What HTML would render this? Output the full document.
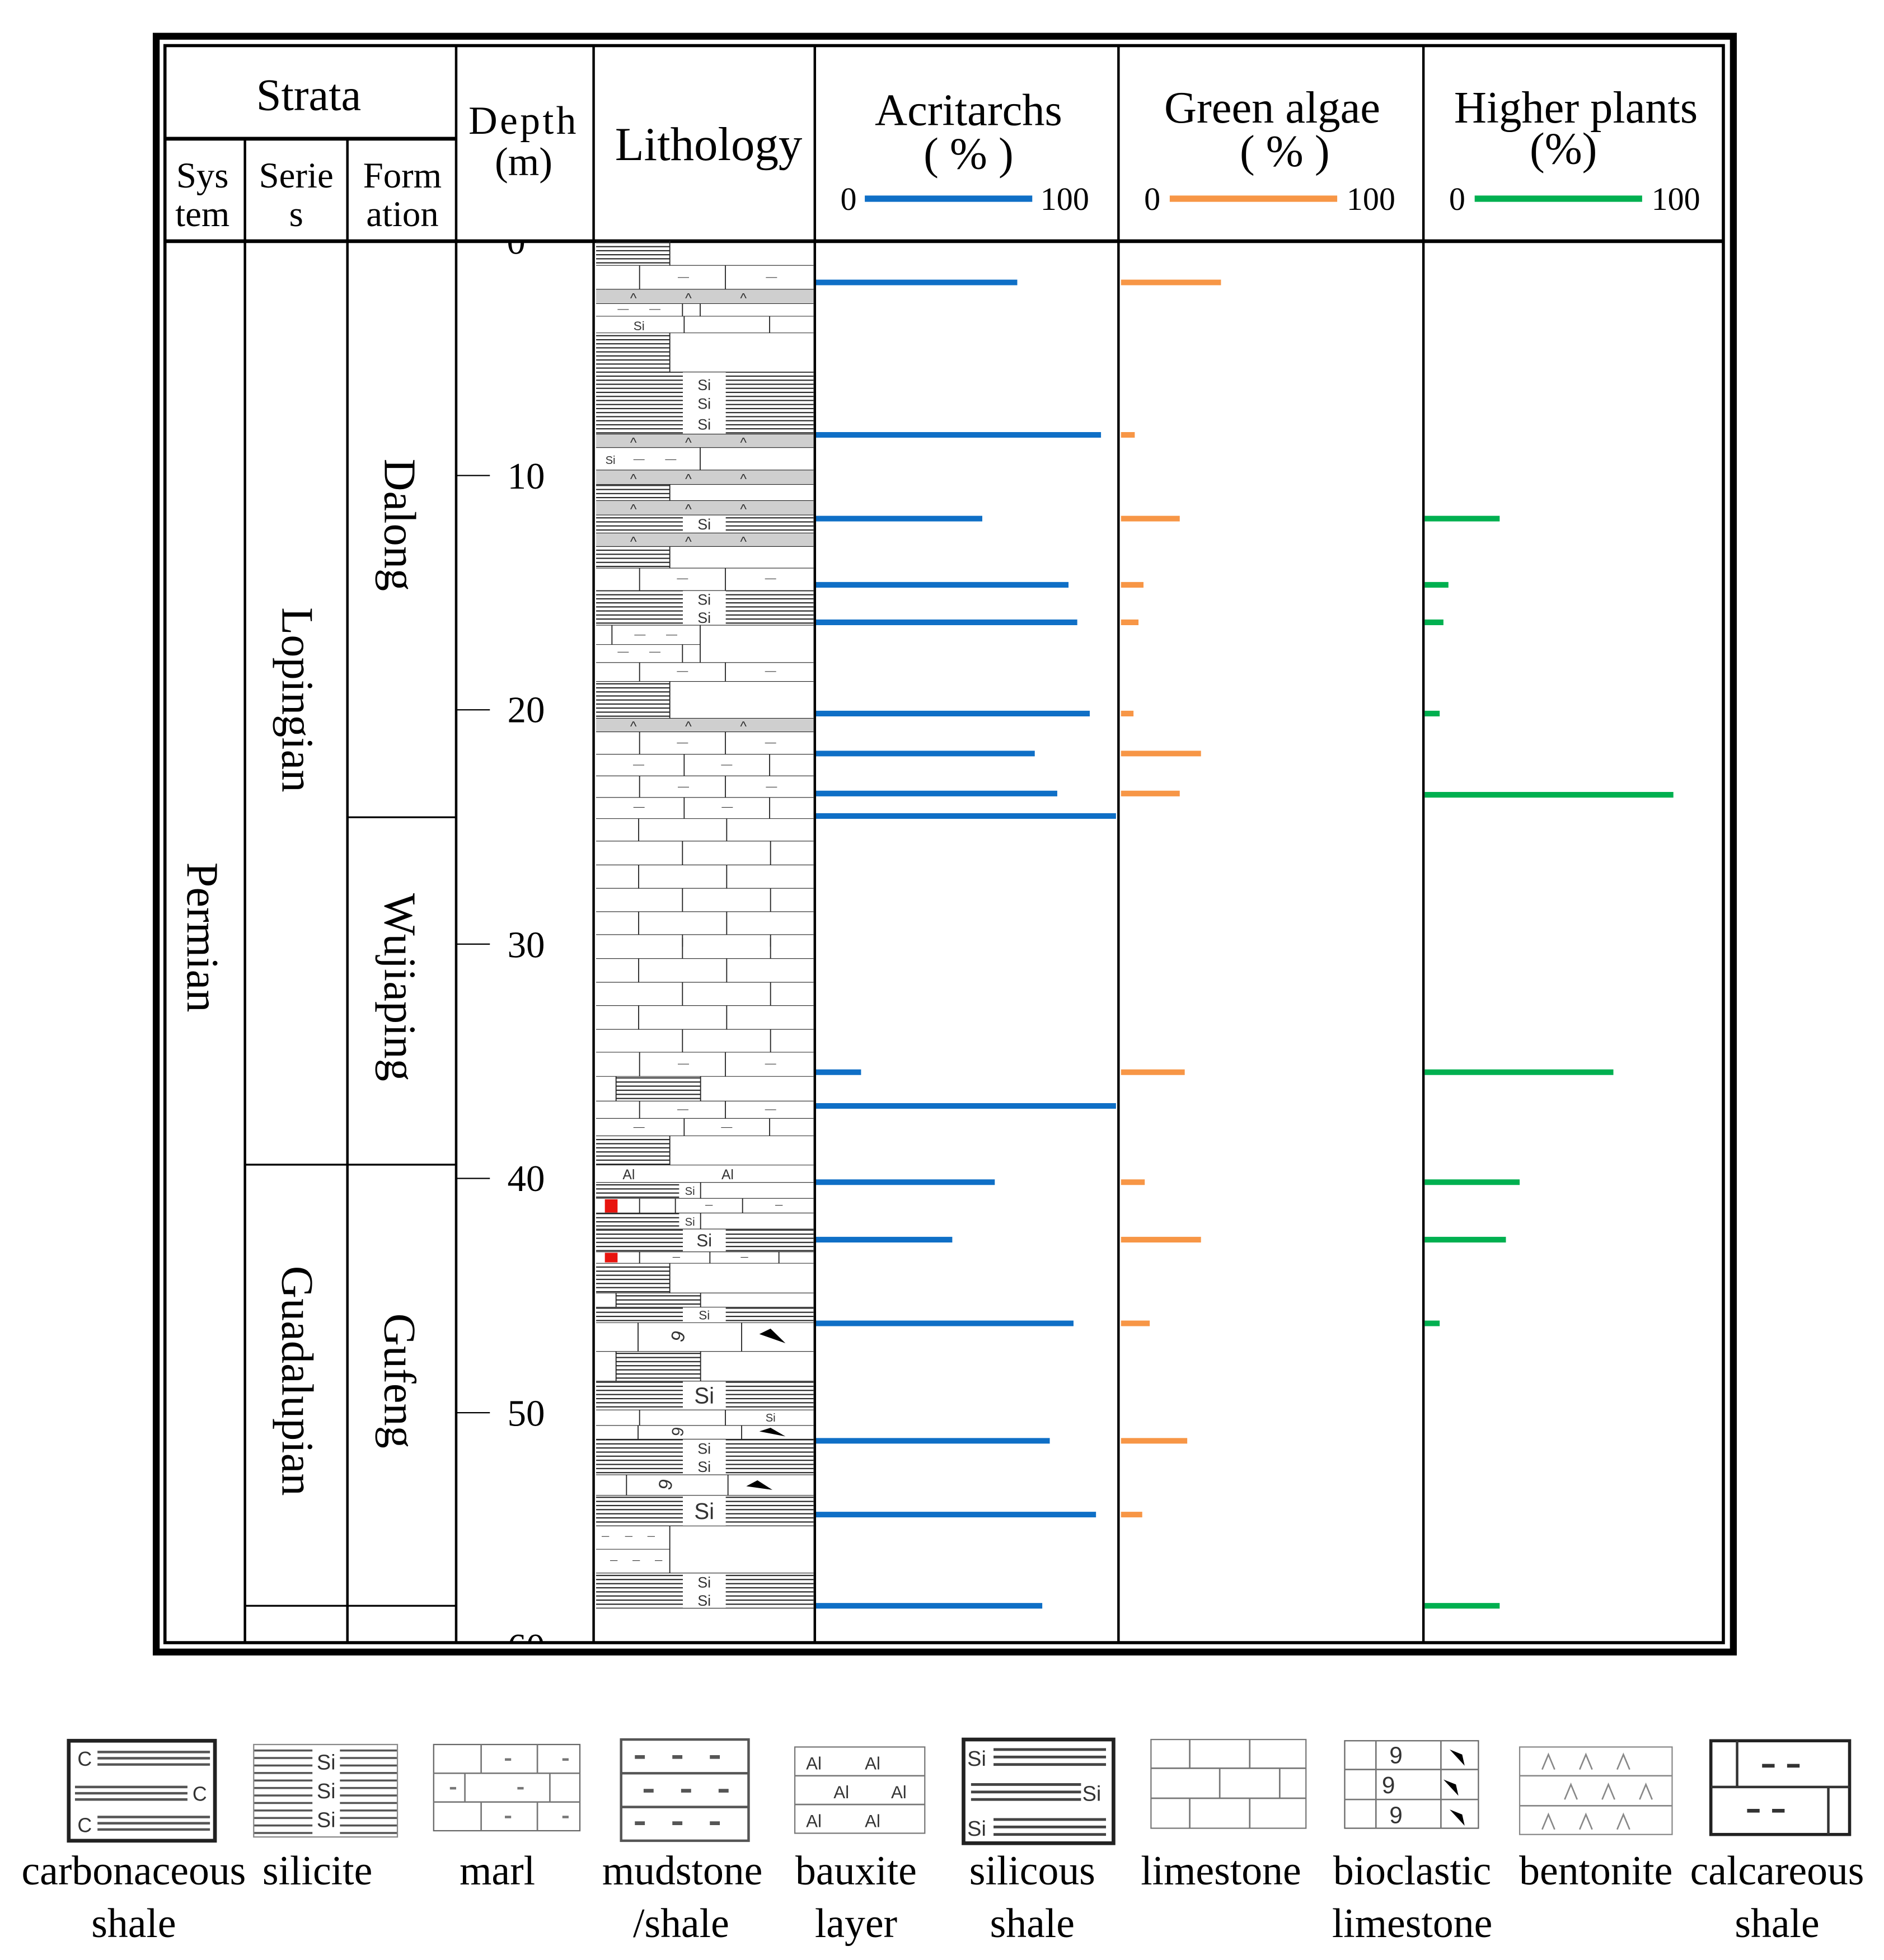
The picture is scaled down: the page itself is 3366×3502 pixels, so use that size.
<!DOCTYPE html>
<html><head><meta charset="utf-8"><style>
html,body{margin:0;padding:0;background:#fff;}
svg{display:block;}
text{font-family:"Liberation Serif",serif;fill:#000;}
.s{font-family:"Liberation Sans",sans-serif;fill:#333;}
</style></head><body>
<svg width="3366" height="3502" viewBox="0 0 1500 1560.6" xmlns="http://www.w3.org/2000/svg">
<defs>
<pattern id="sh" patternUnits="userSpaceOnUse" width="20" height="9"><rect y="3" width="20" height="2.6" fill="#222"/></pattern>
<pattern id="ls" patternUnits="userSpaceOnUse" width="10" height="6"><rect y="2" width="10" height="1.6" fill="#555"/></pattern>
<clipPath id="dc"><rect x="366" y="194" width="108" height="1120"/></clipPath>
</defs>
<g transform="scale(0.995)">
<!-- frame -->
<rect x="125" y="29" width="1262" height="1293" fill="none" stroke="#000" stroke-width="5.5"/>
<rect x="132" y="36.5" width="1247" height="1278" fill="none" stroke="#000" stroke-width="2.5"/>
<g stroke="#000" stroke-width="2">
<path d="M365 36.5V1314.5M475 36.5V1314.5M652 36.5V1314.5M895 36.5V1314.5M1139 36.5V1314.5"/>
<path d="M196 111V1314.5M278 111V1314.5"/>
<path d="M132 111H365" stroke-width="3"/>
<path d="M132 193H1379" stroke-width="3"/>
<path d="M278 654H365M196 932H365M196 1285H365" stroke-width="1.5"/>
<path d="M365 380.5H392M365 568H392M365 755.5H392M365 943H392M365 1130.5H392" stroke-width="1"/>
</g>
<!-- headers -->
<g font-size="36" text-anchor="middle">
<text x="247" y="88">Strata</text>
<text x="567" y="128" font-size="38">Lithology</text>
<text x="775" y="100">Acritarchs</text>
<text x="775" y="135">( % )</text>
<text x="1018" y="98">Green algae</text>
<text x="1028" y="133">( % )</text>
<text x="1261" y="98">Higher plants</text>
<text x="1251" y="131">(%)</text>
</g>
<g font-size="29" text-anchor="middle">
<text x="162" y="150">Sys</text><text x="162" y="181">tem</text>
<text x="237" y="150">Serie</text><text x="237" y="181">s</text>
<text x="322" y="150">Form</text><text x="322" y="181">ation</text>
<text x="419" y="107" font-size="32" letter-spacing="2">Depth</text>
<text x="419" y="140" font-size="32">(m)</text>
</g>
<g font-size="26" text-anchor="middle">
<text x="679" y="168">0</text><text x="852" y="168">100</text>
<text x="922" y="168">0</text><text x="1097" y="168">100</text>
<text x="1166" y="168">0</text><text x="1341" y="168">100</text>
</g>
<path d="M692 159H826" stroke="#0f6fc6" stroke-width="5"/>
<path d="M936 159H1070" stroke="#f79646" stroke-width="5"/>
<path d="M1180 159H1314" stroke="#00b050" stroke-width="5"/>
<!-- depth labels -->
<g font-size="30" text-anchor="middle">
<text x="421" y="391">10</text><text x="421" y="578">20</text><text x="421" y="766">30</text><text x="421" y="953">40</text><text x="421" y="1141">50</text>
<g clip-path="url(#dc)"><text x="413" y="203">0</text><text x="421" y="1328">60</text></g>
</g>
<!-- vertical labels -->
<g font-size="36" text-anchor="middle">
<text transform="translate(150,750) rotate(90)">Permian</text>
<text transform="translate(226,560) rotate(90)">Lopingian</text>
<text transform="translate(226,1105) rotate(90)">Guadalupian</text>
<text transform="translate(308,420) rotate(90)">Dalong</text>
<text transform="translate(308,790) rotate(90)">Wujiaping</text>
<text transform="translate(308,1105) rotate(90)">Gufeng</text>
</g>
<!-- bars -->
<g stroke="#0f6fc6" stroke-width="4.5">
<path d="M653 226H814M653 348H881M653 415H786M653 468H855M653 498H862M653 571H872M653 603H828M653 635H846M653 653H893M653 858H689M653 885H893M653 946H796M653 992H762M653 1059H859M653 1153H840M653 1212H877M653 1285H834"/>
</g>
<g stroke="#f79646" stroke-width="4.5">
<path d="M897 226H977M897 348H908M897 415H944M897 468H915M897 498H911M897 571H907M897 603H961M897 635H944M897 858H948M897 946H916M897 992H961M897 1059H920M897 1153H950M897 1212H914"/>
</g>
<g stroke="#00b050" stroke-width="4.5">
<path d="M1140 415H1200M1140 468H1159M1140 498H1155M1140 571H1152M1140 636H1339M1140 858H1291M1140 946H1216M1140 992H1205M1140 1059H1152M1140 1285H1200"/>
</g>

<!-- legend -->
<g stroke="#222" fill="none">
<rect x="55" y="1393" width="117" height="80" stroke-width="3"/>
<rect x="203" y="1396" width="115" height="74" stroke="#888" fill="url(#ls)"/>
<rect x="347" y="1396" width="117" height="69" stroke="#666"/>
<rect x="497" y="1392" width="102" height="81" stroke="#555" stroke-width="2"/>
<rect x="636" y="1398" width="104" height="69" stroke="#777"/>
<rect x="771" y="1392" width="120" height="83" stroke-width="3"/>
<rect x="921" y="1392" width="124" height="71" stroke="#777"/>
<rect x="1076" y="1393" width="107" height="70" stroke="#666"/>
<rect x="1216" y="1398" width="122" height="70" stroke="#888"/>
<rect x="1369" y="1393" width="111" height="75" stroke-width="2.5"/>
</g>
<g stroke="#555" stroke-width="2">
<path d="M78 1402H168M78 1407H168M78 1412H168M60 1430H150M60 1435H150M60 1440H150M78 1454H168M78 1459H168M78 1464H168"/>
</g>
<g class="s" font-size="16"><text x="62" y="1413" class="s">C</text><text x="154" y="1441" class="s">C</text><text x="62" y="1466" class="s">C</text></g>
<rect x="250" y="1397" width="22" height="72" fill="#fff"/>
<g font-size="17" class="s" text-anchor="middle"><text x="261" y="1416" class="s">Si</text><text x="261" y="1439" class="s">Si</text><text x="261" y="1462" class="s">Si</text></g>
<g stroke="#777" stroke-width="1.2"><path d="M347 1419H464M347 1442H464M385 1396V1419M430 1396V1419M372 1419V1442M440 1419V1442M385 1442V1465M430 1442V1465"/>
<path d="M404 1408h5M450 1408h5M360 1431h5M414 1431h5M404 1454h5M450 1454h5" stroke-width="2"/></g>
<g stroke="#555" stroke-width="2"><path d="M497 1419H599M497 1446H599"/>
<path d="M508 1406h8M538 1406h8M568 1406h8M515 1433h8M545 1433h8M575 1433h8M508 1459h8M538 1459h8M568 1459h8" stroke-width="3"/></g>
<g stroke="#777" stroke-width="1.2"><path d="M636 1421H740M636 1444H740"/></g>
<g class="s" font-size="14"><text x="645" y="1416" class="s">Al</text><text x="692" y="1416" class="s">Al</text><text x="667" y="1439" class="s">Al</text><text x="713" y="1439" class="s">Al</text><text x="645" y="1462" class="s">Al</text><text x="692" y="1462" class="s">Al</text></g>
<g stroke="#444" stroke-width="2.2"><path d="M795 1400H885M795 1406H885M795 1412H885M777 1428H865M777 1434H865M777 1440H865M795 1456H885M795 1462H885M795 1468H885"/></g>
<g class="s" font-size="17"><text x="774" y="1413" class="s">Si</text><text x="866" y="1441" class="s">Si</text><text x="774" y="1469" class="s">Si</text></g>
<g stroke="#777" stroke-width="1.2"><path d="M921 1415H1045M921 1439H1045M952 1392V1415M1000 1392V1415M976 1415V1439M1024 1415V1439M952 1439V1463M1000 1439V1463"/></g>
<g stroke="#777" stroke-width="1.2"><path d="M1076 1416H1183M1076 1440H1183M1101 1393V1463M1153 1393V1463"/></g>
<g class="s" font-size="19" text-anchor="middle"><text x="1117" y="1411" class="s">9</text><text x="1111" y="1435" class="s">9</text><text x="1117" y="1459" class="s">9</text></g>
<g fill="#000"><polygon points="1160,1400 1170,1404 1172,1413"/><polygon points="1155,1424 1165,1428 1167,1437"/><polygon points="1160,1448 1170,1452 1172,1461"/></g>
<g stroke="#888" stroke-width="1.2"><path d="M1216 1421H1338M1216 1445H1338"/></g>
<g fill="none" stroke="#888" stroke-width="1.2"><path d="M1234 1416l5-12l5 12M1264 1416l5-12l5 12M1294 1416l5-12l5 12M1252 1440l5-12l5 12M1282 1440l5-12l5 12M1312 1440l5-12l5 12M1234 1464l5-12l5 12M1264 1464l5-12l5 12M1294 1464l5-12l5 12"/></g>
<g stroke="#333" stroke-width="2"><path d="M1369 1430H1480M1390 1393V1430M1463 1430V1468"/>
<path d="M1410 1413h10M1430 1413h10M1398 1449h10M1418 1449h10" stroke-width="3"/></g>
<g font-size="33" text-anchor="middle">
<text x="107" y="1508">carbonaceous</text><text x="107" y="1550">shale</text>
<text x="254" y="1508">silicite</text>
<text x="398" y="1508">marl</text>
<text x="546" y="1508">mudstone</text><text x="545" y="1550">/shale</text>
<text x="685" y="1508">bauxite</text><text x="685" y="1550">layer</text>
<text x="826" y="1508">silicous</text><text x="826" y="1550">shale</text>
<text x="977" y="1508">limestone</text>
<text x="1130" y="1508">bioclastic</text><text x="1130" y="1550">limestone</text>
<text x="1277" y="1508">bentonite</text>
<text x="1422" y="1508">calcareous</text><text x="1422" y="1550">shale</text>
</g>
</g>

<!-- LITHOLOGY group 1 -->
<g transform="matrix(0.14854 0 0 0.35811 472.37 191.62)">
<g fill="#cfcfcf"><rect x="15" y="108" width="1165" height="32"/><rect x="15" y="430" width="1165" height="30"/><rect x="15" y="510" width="1165" height="32"/><rect x="15" y="578" width="1165" height="32"/><rect x="15" y="650" width="1165" height="30"/><rect x="15" y="1062" width="1165" height="30"/></g>
<g fill="url(#sh)"><rect x="15" y="0" width="395" height="55"/><rect x="15" y="205" width="395" height="87"/><rect x="15" y="542" width="395" height="36"/><rect x="15" y="680" width="395" height="48"/><rect x="15" y="980" width="395" height="82"/>
<rect x="15" y="292" width="465" height="138"/><rect x="710" y="292" width="470" height="138"/><rect x="15" y="610" width="465" height="40"/><rect x="710" y="610" width="470" height="40"/><rect x="15" y="778" width="465" height="77"/><rect x="710" y="778" width="470" height="77"/></g>
<path vector-effect="non-scaling-stroke" stroke="#222" stroke-width="1.1" fill="none" d="M15 0H1180M15 55H1180M15 108H1180M15 140H1180M15 168H1180M15 205H1180M15 292H1180M15 430H1180M15 460H1180M15 510H1180M15 542H1180M15 578H1180M15 610H1180M15 650H1180M15 680H1180M15 728H1180M15 778H1180M15 855H1180M15 898H573M15 938H1180M15 980H1180M15 1062H1180M15 1092H1180M15 1142H1180M15 1190H1180M15 1238H1180M15 1285H1180M15 1335H1180M15 1388H1180M15 1440H1180M15 1492H1180M15 1543H1180"/>
<path vector-effect="non-scaling-stroke" stroke="#222" stroke-width="1.8" fill="none" d="M248 55V108M708 55V108M478 140V168M573 140V168M487 168V205M945 168V205M410 0V55M410 205V292M410 542V578M410 680V728M410 980V1062M573 460V510M248 728V778M708 728V778M100 855V898M573 855V938M478 898V938M248 938V980M708 938V980M248 1092V1142M708 1092V1142M487 1142V1190M945 1142V1190M248 1190V1238M708 1190V1238M487 1238V1285M945 1238V1285M243 1285V1335M715 1285V1335M478 1335V1388M950 1335V1388M243 1388V1440M715 1388V1440M478 1440V1492M950 1440V1492M243 1492V1543M715 1492V1543M478 1543V1570M950 1543V1570"/>
<path vector-effect="non-scaling-stroke" stroke="#222" stroke-width="1" fill="none" d="M453 82h60M925 82h60M130 153h60M300 153h60M215 487h60M385 487h60M448 752h60M920 752h60M220 877h60M390 877h60M130 915h60M300 915h60M448 958h60M920 958h60M448 1117h60M920 1117h60M213 1166h60M685 1166h60M453 1215h60M925 1215h60M215 1260h60M688 1260h60"/>
</g>
<!-- LITHOLOGY group 2 -->
<g transform="matrix(0.14854 0 0 0.36377 472.37 748.66)">
<g fill="url(#sh)"><rect x="122" y="298" width="453" height="54"/><rect x="15" y="428" width="395" height="64"/><rect x="15" y="530" width="445" height="35"/><rect x="15" y="597" width="445" height="35"/><rect x="15" y="707" width="395" height="65"/><rect x="122" y="772" width="453" height="31"/><rect x="122" y="900" width="453" height="65"/>
<rect x="15" y="632" width="465" height="50"/><rect x="710" y="632" width="470" height="50"/><rect x="15" y="803" width="465" height="34"/><rect x="710" y="803" width="470" height="34"/><rect x="15" y="965" width="465" height="63"/><rect x="710" y="965" width="470" height="63"/><rect x="15" y="1092" width="465" height="78"/><rect x="710" y="1092" width="470" height="78"/><rect x="15" y="1215" width="465" height="67"/><rect x="710" y="1215" width="470" height="67"/><rect x="15" y="1385" width="465" height="77"/><rect x="710" y="1385" width="470" height="77"/></g>
<g fill="#e8140e"><rect x="62" y="567" width="68" height="29"/><rect x="62" y="684" width="68" height="21"/></g>
<g fill="#000"><polygon points="890,862 1030,882 950,850"/><polygon points="890,1075 1030,1086 950,1067"/><polygon points="820,1195 960,1203 880,1182"/></g>
<path vector-effect="non-scaling-stroke" stroke="#222" stroke-width="1.1" fill="none" d="M15 40H1180M15 92H1180M15 143H1180M15 195H1180M15 245H1180M15 298H1180M15 352H1180M15 390H1180M15 428H1180M15 492H1180M15 530H1180M15 565H1180M15 597H1180M15 632H1180M15 682H1180M15 707H1180M15 772H1180M15 803H1180M15 837H1180M15 900H1180M15 965H1180M15 1028H1180M15 1062H1180M15 1092H1180M15 1170H1180M15 1215H1180M15 1282H1180M15 1385H1180M15 1462H1180M15 1333H410"/>
<path vector-effect="non-scaling-stroke" stroke="#222" stroke-width="1.8" fill="none" d="M478 -5V40M950 -5V40M243 40V92M715 40V92M478 92V143M950 92V143M243 143V195M715 143V195M478 195V245M950 195V245M248 245V298M708 245V298M122 298V352M575 298V352M248 352V390M708 352V390M487 390V428M945 390V428M410 428V492M575 530V565M248 565V597M440 565V597M800 565V597M575 597V632M248 682V707M625 682V707M995 682V707M410 707V772M122 772V803M575 772V803M240 837V900M795 837V900M122 900V965M575 900V965M248 1028V1062M708 1028V1062M240 1062V1092M795 1062V1092M178 1170V1215M722 1170V1215M410 1282V1385"/>
<path vector-effect="non-scaling-stroke" stroke="#222" stroke-width="1" fill="none" d="M453 271h60M920 271h60M450 371h60M920 371h60M215 410h60M685 410h60M600 580h40M975 580h40M425 694h40M790 694h40M45 1305h40M170 1305h40M290 1305h40M90 1358h40M210 1358h40M330 1358h40"/>
</g>
<!-- lithology text -->
<g font-size="11" fill="#444" text-anchor="middle" font-family="Liberation Sans, sans-serif">
<text x="504.3" y="241" class="s">^</text><text x="548.1" y="241" class="s">^</text><text x="591.9" y="241" class="s">^</text>
<text x="504.3" y="356" class="s">^</text><text x="548.1" y="356" class="s">^</text><text x="591.9" y="356" class="s">^</text>
<text x="504.3" y="385" class="s">^</text><text x="548.1" y="385" class="s">^</text><text x="591.9" y="385" class="s">^</text>
<text x="504.3" y="409" class="s">^</text><text x="548.1" y="409" class="s">^</text><text x="591.9" y="409" class="s">^</text>
<text x="504.3" y="435" class="s">^</text><text x="548.1" y="435" class="s">^</text><text x="591.9" y="435" class="s">^</text>
<text x="504.3" y="582" class="s">^</text><text x="548.1" y="582" class="s">^</text><text x="591.9" y="582" class="s">^</text>
</g>
<g font-size="12" text-anchor="middle">
<text x="560.7" y="310.5" class="s">Si</text><text x="560.7" y="325.5" class="s">Si</text><text x="560.7" y="342" class="s">Si</text>
<text x="560.7" y="421.5" class="s">Si</text><text x="560.7" y="481.5" class="s">Si</text><text x="560.7" y="496" class="s">Si</text>
<text x="508.8" y="263" font-size="10" class="s">Si</text><text x="486" y="369.5" font-size="9" class="s">Si</text>
<text x="500.6" y="939" font-size="11" class="s">Al</text><text x="579.3" y="939" font-size="11" class="s">Al</text>
<text x="549.3" y="951.5" font-size="9" class="s">Si</text><text x="549.3" y="976" font-size="9" class="s">Si</text>
<text x="560.7" y="992.5" font-size="14" class="s">Si</text>
<text x="560.7" y="1050.5" font-size="10" class="s">Si</text>
<text x="560.7" y="1117.5" font-size="18" class="s">Si</text>
<text x="613.5" y="1132" font-size="9" class="s">Si</text>
<text x="560.7" y="1157.5" class="s">Si</text><text x="560.7" y="1172" class="s">Si</text>
<text x="560.7" y="1209.5" font-size="18" class="s">Si</text>
<text x="560.7" y="1264" class="s">Si</text><text x="560.7" y="1278.5" class="s">Si</text>
<text transform="translate(540,1064) rotate(-70)" font-size="15" dy="5" class="s">9</text>
<text transform="translate(540,1140) rotate(-80)" font-size="13" dy="4" class="s">9</text>
<text transform="translate(530,1182) rotate(-75)" font-size="15" dy="5" class="s">9</text>
</g>
</svg>
</body></html>
